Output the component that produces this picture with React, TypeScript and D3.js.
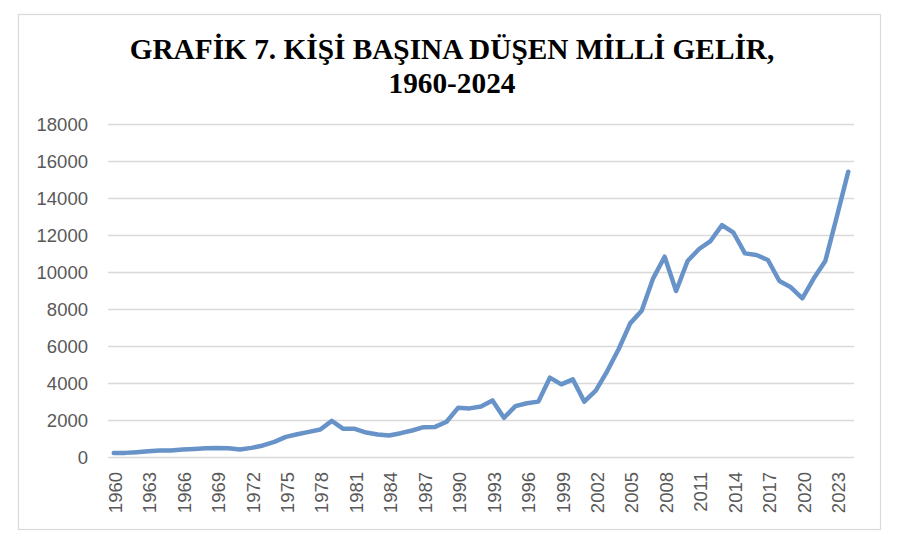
import React from "react";
import * as d3 from "d3";

const years: number[] = d3.range(1960, 2025);
const income: number[] = [
  250, 250, 290, 340, 375, 375, 430, 465, 500, 520,
  500, 430, 520, 650, 845, 1115, 1260, 1385, 1510, 1980,
  1550, 1550, 1350, 1245, 1190, 1315, 1460, 1640, 1655, 1930,
  2685, 2655, 2760, 3085, 2145, 2780, 2930, 3020, 4315, 3955,
  4225, 3020, 3610, 4675, 5865, 7250, 7935, 9685, 10855, 9000,
  10620, 11270, 11700, 12565, 12150, 11035, 10945, 10675, 9540, 9200,
  8605, 9685, 10620, 13015, 15450,
];
const yTicks: number[] = [0, 2000, 4000, 6000, 8000, 10000, 12000, 14000, 16000, 18000];
const xTickYears: number[] = years.filter((y) => (y - 1960) % 3 === 0);
const titleLines: string[] = ["GRAFİK 7. KİŞİ BAŞINA DÜŞEN MİLLİ GELİR,", "1960-2024"];

export default function App() {
  const ref = React.useRef<SVGSVGElement>(null);

  React.useEffect(() => {
    const width = 900;
    const height = 553;
    const marginLeft = 108;
    const marginRight = 46;
    const plotTop = 124.5;
    const plotBottom = 457.5;
    const labelColor = "#595959";
    const labelFont = "'Liberation Sans', Arial, sans-serif";

    const data = years.map((yr, i) => ({ year: yr, value: income[i] }));

    const x = d3
      .scalePoint<number>()
      .domain(years)
      .range([marginLeft, width - marginRight])
      .padding(0.5);

    const y = d3.scaleLinear().domain([0, 18000]).range([plotBottom, plotTop]);

    const svg = d3
      .select(ref.current)
      .attr("width", width)
      .attr("height", height)
      .attr("viewBox", [0, 0, width, height]);
    svg.selectAll("*").remove();

    svg.append("rect").attr("width", width).attr("height", height).attr("fill", "#fff");

    // chart frame
    svg.append("rect")
      .attr("x", 18.5)
      .attr("y", 14.5)
      .attr("width", 862)
      .attr("height", 515)
      .attr("fill", "none")
      .attr("stroke", "#d9d9d9")
      .attr("stroke-width", 1.2);

    // title
    svg.append("g")
      .attr("font-family", "'Liberation Serif', 'Times New Roman', serif")
      .attr("font-weight", "bold")
      .attr("font-size", 29.3)
      .attr("fill", "#000")
      .attr("text-anchor", "middle")
      .selectAll()
      .data(titleLines)
      .join("text")
      .attr("x", 452)
      .attr("y", (d, i) => 59 + i * 34)
      .text((d) => d);

    // gridlines
    svg.append("g")
      .attr("stroke", "#d9d9d9")
      .attr("stroke-width", 1.3)
      .selectAll()
      .data(yTicks)
      .join("line")
      .attr("x1", marginLeft)
      .attr("x2", width - marginRight)
      .attr("y1", (d) => y(d))
      .attr("y2", (d) => y(d));

    // y labels
    svg.append("g")
      .attr("font-family", labelFont)
      .attr("font-size", 18.5)
      .attr("fill", labelColor)
      .attr("text-anchor", "end")
      .selectAll()
      .data(yTicks)
      .join("text")
      .attr("x", 88)
      .attr("y", (d) => y(d))
      .attr("dy", "0.36em")
      .text((d) => d);

    // x labels
    svg.append("g")
      .attr("font-family", labelFont)
      .attr("font-size", 18.5)
      .attr("fill", labelColor)
      .attr("text-anchor", "end")
      .selectAll()
      .data(xTickYears)
      .join("text")
      .attr("transform", (d) => `translate(${x(d)! + 1.5},472) rotate(-90)`)
      .attr("dy", "0.36em")
      .text((d) => d);

    // the line
    const line = d3
      .line<{ year: number; value: number }>()
      .x((d) => x(d.year)!)
      .y((d) => y(d.value));

    svg.append("path")
      .datum(data)
      .attr("fill", "none")
      .attr("stroke", "#6893c9")
      .attr("stroke-width", 4.5)
      .attr("stroke-linejoin", "round")
      .attr("stroke-linecap", "round")
      .attr("d", line);
  }, []);

  return <svg ref={ref} style={{ position: "absolute", left: 0, top: 0 }}></svg>;
}
